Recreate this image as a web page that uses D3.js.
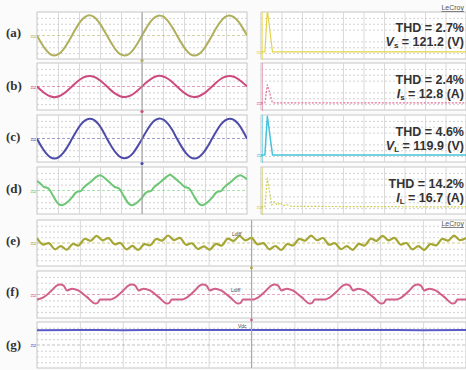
<!DOCTYPE html>
<html>
<head>
<meta charset="utf-8">
<script src="https://cdn.jsdelivr.net/npm/d3@7"></script>
<style>
  body { margin: 0; background: #fbfbfb; }
  svg { display: block; }
</style>
</head>
<body>
<svg id="chart" width="466" height="370"></svg>
<script>
// ---- data read off the scope shots ----
// top traces: 50 ms window (5 ms/div), one sample every 50/48 ms
const topSampleMs = 50 / 48;
const vsSamples = [0,-66,-121,-158,-171,-157,-120,-64,1,66,122,158,172,158,120,64,
  -1,-65,-122,-159,-170,-158,-121,-66,0,65,121,157,171,159,121,65,
  1,-64,-120,-158,-171,-158,-122,-65,0,66,121,158,171,157,120,65,0];
const isSamples = [0,-6.9,-12.8,-16.7,-18.1,-16.6,-12.6,-6.8,0.1,7.0,12.8,16.6,18.0,16.7,12.7,6.9,
  0,-7.0,-12.7,-16.6,-18.0,-16.7,-12.8,-6.9,0,6.9,12.7,16.7,18.1,16.6,12.8,7.0,
  0.1,-6.9,-12.7,-16.7,-18.0,-16.6,-12.7,-6.8,0,7.0,12.8,16.6,18.0,16.6,12.7,6.9,0];
const vlSamples = [-3,-68,-122,-158,-170,-158,-123,-68,-3,62,118,155,169,159,124,69,
  -2,-66,-121,-157,-169,-157,-122,-67,-4,61,119,156,170,158,123,68,
  -3,-67,-122,-158,-170,-158,-123,-68,-3,62,118,155,169,159,124,69,-2];
// load current, [ms, A]
const ilPoints = [[0,16],[0.6,13],[1.7,6],[2.2,5],[2.8,3],[3.9,-10],[5.0,-22],[5.8,-25],
  [6.6,-23],[8.3,-12],[9.2,-4],[9.7,-2],[10.4,-1],[11.1,5],[12.8,15],[14.3,24],[15.0,26],[15.6,24],
  [17.4,13],[18.5,6],[19.0,5],[19.6,3],[20.7,-10],[21.8,-22],[22.5,-25],
  [23.3,-23],[25.0,-12],[25.9,-4],[26.4,-2],[27.1,-1],[27.8,5],[29.5,15],[31.0,24],[31.7,27],[32.3,24],
  [34.1,13],[35.2,6],[35.7,5],[36.3,3],[37.4,-10],[38.5,-22],[39.2,-25],
  [40.0,-23],[41.7,-12],[42.6,-4],[43.1,-2],[43.8,-1],[44.5,5],[46.2,15],[47.7,24],[48.4,26],[49.0,24],[50,19]];

// spectra, [Hz, div above floor]
const specVs = [[0,0],[38,0],[62,7.2],[112,0],[2000,0]];
const specIs = [[0,0],[38,0],[62,3.1],[112,0],[2000,0]];
const specVl = [[0,0],[38,0],[62,6.6],[112,0],[2000,0]];
const specIl = [[0,0],[38,0],[62,4.9],[105,0.3],[130,0.9],[160,0.3],[185,0.7],[220,0.2],[250,0.4],[300,0.1],[2000,0]];

// bottom traces: 100 ms window (10 ms/div)
const vcSampleMs = 100 / 72;
const vcSamples = [0.87,-0.27,-0.03,-1.09,-0.55,-1.17,-0.17,-0.43,0.73,0.39,1.25,0.47,
  0.85,-0.22,0.0,-1.12,-0.5,-1.2,-0.2,-0.4,0.7,0.42,1.3,0.5,
  0.9,-0.3,-0.05,-1.05,-0.58,-1.15,-0.15,-0.45,0.75,0.36,1.22,0.45,
  0.88,-0.25,-0.02,-1.1,-0.52,-1.22,-0.18,-0.42,0.72,0.4,1.28,0.48,
  0.86,-0.28,-0.04,-1.08,-0.56,-1.18,-0.16,-0.44,0.74,0.38,1.24,0.46,
  0.89,-0.26,-0.01,-1.11,-0.53,-1.19,-0.19,-0.41,0.71,0.41,1.27,0.49,0.87];
const icPoints = [[0,-0.86],[1.5,-0.5],[3.3,0.6],[4.6,1.5],[5.4,1.7],[6.2,1.5],[7.0,0.7],[8.2,1.0],[9.6,0.7],[11.6,-0.4],[13.6,-1.55],[14.2,-1.4],[14.7,-0.86],[17.1,-0.86],[18.2,-0.52],
  [20.0,0.6],[21.3,1.5],[22.1,1.7],[22.9,1.5],[23.7,0.7],[24.9,1.0],[26.3,0.7],[28.3,-0.4],[30.3,-1.55],[30.9,-1.4],[31.4,-0.86],[33.8,-0.86],[34.9,-0.52],
  [36.7,0.6],[37.9,1.5],[38.7,1.7],[39.5,1.5],[40.3,0.7],[41.5,1.0],[42.9,0.7],[44.9,-0.4],[46.9,-1.55],[47.5,-1.4],[48.0,-0.86],[50.4,-0.86],[51.5,-0.52],
  [53.3,0.6],[54.6,1.5],[55.4,1.7],[56.2,1.5],[57.0,0.7],[58.2,1.0],[59.6,0.7],[61.6,-0.4],[63.6,-1.55],[64.2,-1.4],[64.7,-0.86],[67.1,-0.86],[68.2,-0.52],
  [70.0,0.6],[71.3,1.5],[72.1,1.7],[72.9,1.5],[73.7,0.7],[74.9,1.0],[76.3,0.7],[78.3,-0.4],[80.3,-1.55],[80.9,-1.4],[81.4,-0.86],[83.8,-0.86],[84.9,-0.52],
  [86.7,0.6],[87.9,1.5],[88.7,1.7],[89.5,1.5],[90.3,0.7],[91.5,1.0],[92.9,0.7],[94.9,-0.4],[96.9,-1.55],[97.5,-1.4],[98.0,-0.86],[100,-0.86]];
const vdcPoints = [[0,2.55],[10,2.6],[20,2.58],[30,2.62],[40,2.6],[50,2.63],[60,2.6],[70,2.62],[80,2.6],[90,2.58],[100,2.6]];

const rowLabels = ['(a)','(b)','(c)','(d)','(e)','(f)','(g)'];
const thdValues = ['2.7','2.4','4.6','14.2'];
const rmsSymbols = [['V','s'],['I','s'],['V','L'],['I','L']];
const rmsValues = ['121.2','12.8','119.9','16.7'];
const rmsUnits = ['V','A','V','A'];

// ---- layout ----
const svg = d3.select('#chart');
const topRows = [[12,59],[63,110],[115,162],[167,214]];
const botRows = [[220,266],[271,318],[322,368]];
const leftX = [37, 247], rightX = [261, 466], wideX = [37, 466];
const specFloor = -2.8;

const xTop = d3.scaleLinear().domain([0,50]).range(leftX);
const xFreq = d3.scaleLinear().domain([0,2000]).range(rightX);
const xBot = d3.scaleLinear().domain([0,100]).range(wideX);

let clipId = 0;
function panel(x, row, domainY) {
  const y = d3.scaleLinear().domain(domainY).range([row[1], row[0]]);
  const [x0, x1] = x.range();
  const g = svg.append('g');
  g.append('rect').attr('x', x0).attr('y', row[0]).attr('width', x1 - x0).attr('height', row[1] - row[0])
    .attr('fill', '#fff').attr('stroke', '#c6c6c6');
  const d0 = x.domain();
  const xDivs = d3.range(1, 10).map(i => d0[0] + (d0[1] - d0[0]) * i / 10);
  const vg = g.append('g').attr('transform', `translate(0,${row[1]})`)
    .call(d3.axisBottom(x).tickValues(xDivs).tickSize(-(row[1] - row[0])).tickFormat(''));
  vg.select('.domain').remove();
  vg.selectAll('line').attr('stroke', '#dadada');
  const yd = y.domain();
  const yDivs = d3.range(1, 8).filter(i => i !== 4).map(i => yd[0] + (yd[1] - yd[0]) * i / 8);
  const hg = g.append('g').attr('transform', `translate(${x0},0)`)
    .call(d3.axisLeft(y).tickValues(yDivs).tickSize(-(x1 - x0)).tickFormat(''));
  hg.select('.domain').remove();
  hg.selectAll('line').attr('stroke', '#d2d2d2').attr('stroke-dasharray', '2,2');
  const id = 'clip' + (clipId++);
  svg.append('clipPath').attr('id', id).append('rect')
    .attr('x', x0).attr('y', row[0]).attr('width', x1 - x0).attr('height', row[1] - row[0]);
  return { y, g, clip: `url(#${id})`, x0, x1 };
}

function centre(p, color) {
  p.g.append('line').attr('x1', p.x0).attr('x2', p.x1)
    .attr('y1', p.y(0)).attr('y2', p.y(0))
    .attr('stroke', color).attr('stroke-opacity', 0.55).attr('stroke-dasharray', '3,2');
}

function trace(p, x, pts, color, width, curve, dash) {
  const line = d3.line().x(d => x(d[0])).y(d => p.y(d[1])).curve(curve);
  svg.append('path').datum(pts).attr('d', line).attr('clip-path', p.clip)
    .attr('fill', 'none').attr('stroke', color).attr('stroke-width', width)
    .attr('stroke-linejoin', 'round').attr('stroke-dasharray', dash || null);
}

function marker(xp, yp, color) {
  svg.append('text').attr('x', xp).attr('y', yp + 3).attr('font-size', 8)
    .attr('font-family', 'DejaVu Sans').attr('fill', color).text('≈');
}

const topColors = ['#b0af5c', '#cc4a7e', '#4c4ca8', '#6cc676'];
const specColors = ['#e4d44a', '#e07098', '#45c2dc', '#cfcc5a'];
const botColors = ['#a6a634', '#d0608a', '#5a5ac8'];
const perDiv = [50, 10, 50, 10];
const topSeries = [
  vsSamples.map((v, i) => [i * topSampleMs, v]),
  isSamples.map((v, i) => [i * topSampleMs, v]),
  vlSamples.map((v, i) => [i * topSampleMs, v]),
  ilPoints
];
const specSeries = [specVs, specIs, specVl, specIl];

// top rows
topRows.forEach((row, i) => {
  const p = panel(xTop, row, [-4 * perDiv[i], 4 * perDiv[i]]);
  centre(p, topColors[i]);
  trace(p, xTop, topSeries[i], topColors[i], 2, i === 3 ? d3.curveMonotoneX : d3.curveCatmullRom);
  marker(30, p.y(0), topColors[i]);

  const s = panel(xFreq, row, [-4, 4]);
  svg.append('line').attr('x1', rightX[0] + 1.5).attr('x2', rightX[0] + 1.5)
    .attr('y1', row[0]).attr('y2', row[1] + 1)
    .attr('stroke', specColors[i]).attr('stroke-opacity', 0.6);
  trace(s, xFreq, specSeries[i].map(d => [d[0], d[1] + specFloor]), specColors[i],
    i === 2 ? 1.5 : 1.2, d3.curveLinear, (i === 1 || i === 3) ? '2,1.5' : null);
  marker(rightX[0] - 5, s.y(specFloor), specColors[i]);
});

// trigger line across the top-left panels
svg.append('line').attr('x1', xTop(25)).attr('x2', xTop(25))
  .attr('y1', topRows[0][0]).attr('y2', topRows[3][1])
  .attr('stroke', '#9c9c9c');
topRows.slice(0, 3).forEach((row, i) => {
  svg.append('circle').attr('cx', xTop(25)).attr('cy', row[1] + 1.5).attr('r', 1.6).attr('fill', topColors[i]);
});

// bottom rows
const botSeries = [vcSamples.map((v, i) => [i * vcSampleMs, v]), icPoints, vdcPoints];
const botTags = ['Ldiff', 'Ldiff', 'Vdc'];
botRows.forEach((row, i) => {
  const p = panel(xBot, row, [-4, 4]);
  centre(p, i === 2 ? '#8a8a8a' : botColors[i]);
  trace(p, xBot, botSeries[i], botColors[i], i === 0 ? 2.2 : 2,
    i === 0 ? d3.curveCatmullRom : d3.curveMonotoneX);
  marker(30, p.y(0), botColors[i]);
});
svg.append('line').attr('x1', xBot(50)).attr('x2', xBot(50))
  .attr('y1', botRows[0][0]).attr('y2', botRows[2][1]).attr('stroke', '#a8a8a8');
botRows.slice(0, 2).forEach((row, i) => {
  svg.append('circle').attr('cx', xBot(50)).attr('cy', row[1] + 2).attr('r', 1.4).attr('fill', botColors[i]);
});
// small trace tags
[[232, 236], [231, 292], [238, 328]].forEach((pos, i) => {
  svg.append('text').attr('x', pos[0]).attr('y', pos[1]).attr('font-size', 5)
    .attr('font-family', 'Liberation Sans').attr('fill', '#444').text(botTags[i]);
});

// row labels
const labelY = [37, 90, 141, 193, 245, 296, 349];
rowLabels.forEach((t, i) => {
  svg.append('text').attr('x', 6).attr('y', labelY[i])
    .attr('font-family', 'Liberation Serif').attr('font-weight', 'bold')
    .attr('font-size', 13).attr('fill', '#333').text(t);
});

// THD annotations
const thdY = [32, 84, 136, 188];
thdValues.forEach((v, i) => {
  const base = { 'font-family': 'Liberation Sans', 'font-weight': 'bold', 'font-size': 12.5, fill: '#333', 'text-anchor': 'end' };
  const t1 = svg.append('text').attr('x', 464).attr('y', thdY[i]);
  const t2 = svg.append('text').attr('x', 464).attr('y', thdY[i] + 14);
  Object.entries(base).forEach(([k, val]) => { t1.attr(k, val); t2.attr(k, val); });
  t1.text(`THD = ${v}%`);
  t2.append('tspan').attr('font-style', 'italic').text(rmsSymbols[i][0]);
  t2.append('tspan').attr('font-size', 8).attr('dy', 2).text(rmsSymbols[i][1]);
  t2.append('tspan').attr('dy', -2).text(` = ${rmsValues[i]} (${rmsUnits[i]})`);
});

// LeCroy badges
[[464, 10], [464, 226]].forEach(pos => {
  svg.append('text').attr('x', pos[0]).attr('y', pos[1]).attr('text-anchor', 'end')
    .attr('font-family', 'Liberation Sans').attr('font-size', 7).attr('fill', '#555')
    .attr('text-decoration', 'underline').text('LeCroy');
});
</script>
</body>
</html>
